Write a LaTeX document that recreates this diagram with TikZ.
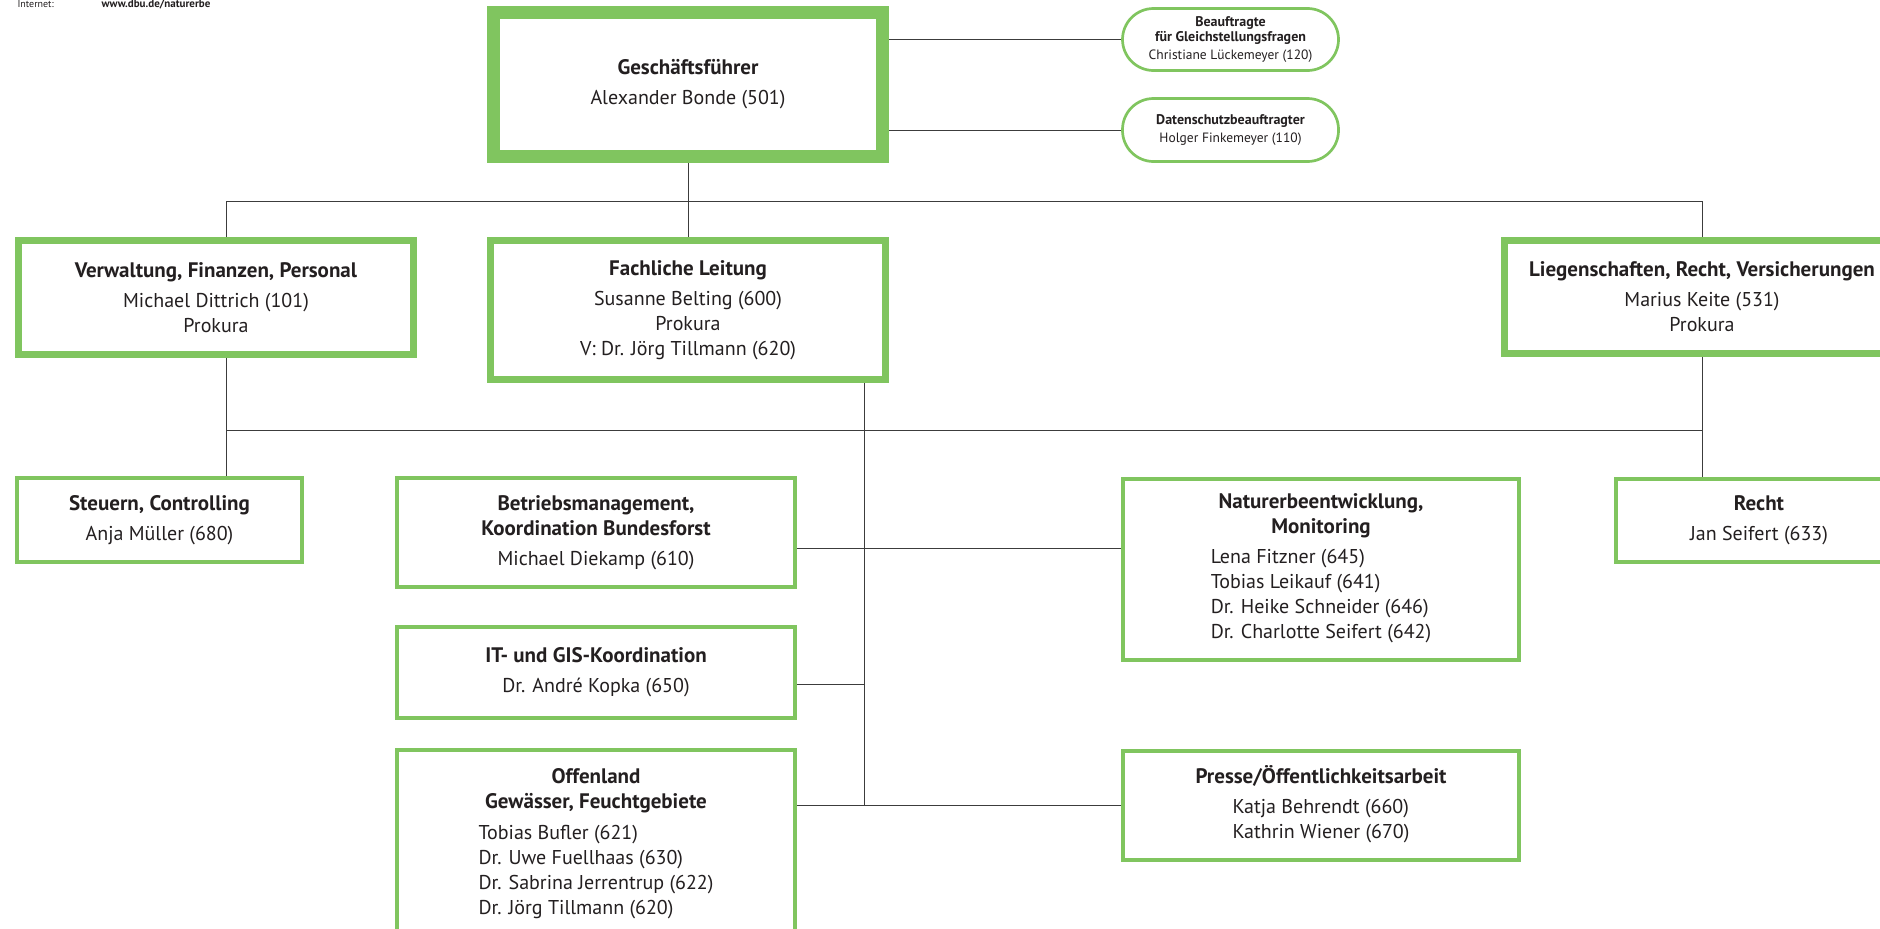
\documentclass[tikz,border=0pt]{standalone}
\usepackage{fontspec}
\setmainfont{PT Sans}
\usetikzlibrary{backgrounds}
\definecolor{dbugreen}{RGB}{128,197,95}
\definecolor{linegray}{RGB}{60,60,60}
\definecolor{textdark}{RGB}{35,31,32}
\newcommand{\ttl}[1]{{\bfseries\fontsize{21}{25}\selectfont #1}}
\newcommand{\sttl}[1]{{\bfseries\fontsize{14}{15}\selectfont #1}}
\tikzset{
  unit/.style={draw=dbugreen, fill=white, align=center, text=textdark, inner sep=0pt,
    font=\fontsize{20}{25}\selectfont},
  chief/.style={unit, line width=13pt},
  dept/.style={unit, line width=7pt},
  team/.style={unit, line width=4pt},
  staff/.style={unit, line width=2.7pt, rounded corners=31pt, font=\fontsize{13.5}{15}\selectfont},
  link/.style={draw=linegray, line width=1pt},
}
\begin{document}
\begin{tikzpicture}[x=1pt, y=-1pt]
  \clip (0,0) rectangle (1880,929);
  \node[anchor=base west, text=textdark, font=\fontsize{10}{10}\selectfont] (inet) at (14,7) {Internet:};
  \node[anchor=base west, text=textdark, font=\bfseries\fontsize{11}{10}\selectfont] (url) at (98,7) {www.dbu.de/naturerbe};

  \node[chief, minimum width=389pt, minimum height=144pt] (gf) at (688,84.5)
    {\ttl{Geschäftsführer}\\[5pt]Alexander Bonde (501)};
  \node[staff, minimum width=216pt, minimum height=62pt] (gb) at (1230.5,39.5)
    {\sttl{Beauftragte}\\\sttl{für Gleichstellungsfragen}\\[3pt]Christiane Lückemeyer (120)};
  \node[staff, minimum width=216pt, minimum height=63pt] (ds) at (1230.5,130)
    {\sttl{Datenschutzbeauftragter}\\[3pt]Holger Finkemeyer (110)};

  \node[dept, minimum width=395pt, minimum height=114pt] (vfp) at (216,297.5)
    {\ttl{Verwaltung, Finanzen, Personal}\\[5pt]Michael Dittrich (101)\\Prokura};
  \node[dept, minimum width=395pt, minimum height=139pt] (fl) at (688,310)
    {\ttl{Fachliche Leitung}\\[5pt]Susanne Belting (600)\\Prokura\\V: Dr. Jörg Tillmann (620)};
  \node[dept, minimum width=395pt, minimum height=113pt] (lrv) at (1702,297)
    {\ttl{Liegenschaften, Recht, Versicherungen}\\[5pt]Marius Keite (531)\\Prokura};

  \node[team, minimum width=285pt, minimum height=84pt] (stc) at (159.5,520)
    {\ttl{Steuern, Controlling}\\[5pt]Anja Müller (680)};
  \node[team, minimum width=398pt, minimum height=109pt] (bm) at (596,532.5)
    {\ttl{Betriebsmanagement,}\\\ttl{Koordination Bundesforst}\\[5pt]Michael Diekamp (610)};
  \node[team, minimum width=398pt, minimum height=91pt] (it) at (596,672.5)
    {\ttl{IT- und GIS-Koordination}\\[5pt]Dr. André Kopka (650)};
  \node[team, minimum width=398pt, minimum height=190pt] (off) at (596,845)
    {\ttl{Offenland}\\\ttl{Gewässer, Feuchtgebiete}\\[6pt]\begin{tabular}[t]{@{}l@{}}Tobias Bufler (621)\\Dr. Uwe Fuellhaas (630)\\Dr. Sabrina Jerrentrup (622)\\Dr. Jörg Tillmann (620)\end{tabular}};
  \node[team, minimum width=396pt, minimum height=181pt] (nem) at (1321,569.5)
    {\ttl{Naturerbeentwicklung,}\\\ttl{Monitoring}\\[5pt]\begin{tabular}[t]{@{}l@{}}Lena Fitzner (645)\\Tobias Leikauf (641)\\Dr. Heike Schneider (646)\\Dr. Charlotte Seifert (642)\end{tabular}};
  \node[team, minimum width=396pt, minimum height=109pt] (pr) at (1321,805.5)
    {\ttl{Presse/Öffentlichkeitsarbeit}\\[5pt]\begin{tabular}[t]{@{}l@{}}Katja Behrendt (660)\\Kathrin Wiener (670)\end{tabular}};
  \node[team, minimum width=286pt, minimum height=83pt] (re) at (1759,520.5)
    {\ttl{Recht}\\[5pt]Jan Seifert (633)};

  \coordinate (busA) at (226,201);
  \coordinate (busB) at (1702,201);
  \coordinate (lowA) at (226,430);
  \coordinate (lowB) at (1702,430);
  \coordinate (spine) at (864,805);
  \coordinate (rowA) at (864,548);
  \coordinate (rowB) at (864,684);

  \begin{scope}[on background layer]
    \draw[link] (gf.east |- gb.west) -- (gb.west);
    \draw[link] (gf.east |- ds.west) -- (ds.west);
    \draw[link] (gf.south) -- (fl.north);
    \draw[link] (busA) -- (busB);
    \draw[link] (busA) -- (vfp.north -| busA);
    \draw[link] (busB) -- (lrv.north);
    \draw[link] (lowA) -- (lowB);
    \draw[link] (vfp.south -| busA) -- (stc.north -| busA);
    \draw[link] (lrv.south) -- (re.north -| lrv.south);
    \draw[link] (fl.south -| spine) -- (spine);
    \draw[link] (bm.east |- rowA) -- (nem.west |- rowA);
    \draw[link] (it.east |- rowB) -- (rowB);
    \draw[link] (off.east |- spine) -- (pr.west |- spine);
  \end{scope}
\end{tikzpicture}
\end{document}
